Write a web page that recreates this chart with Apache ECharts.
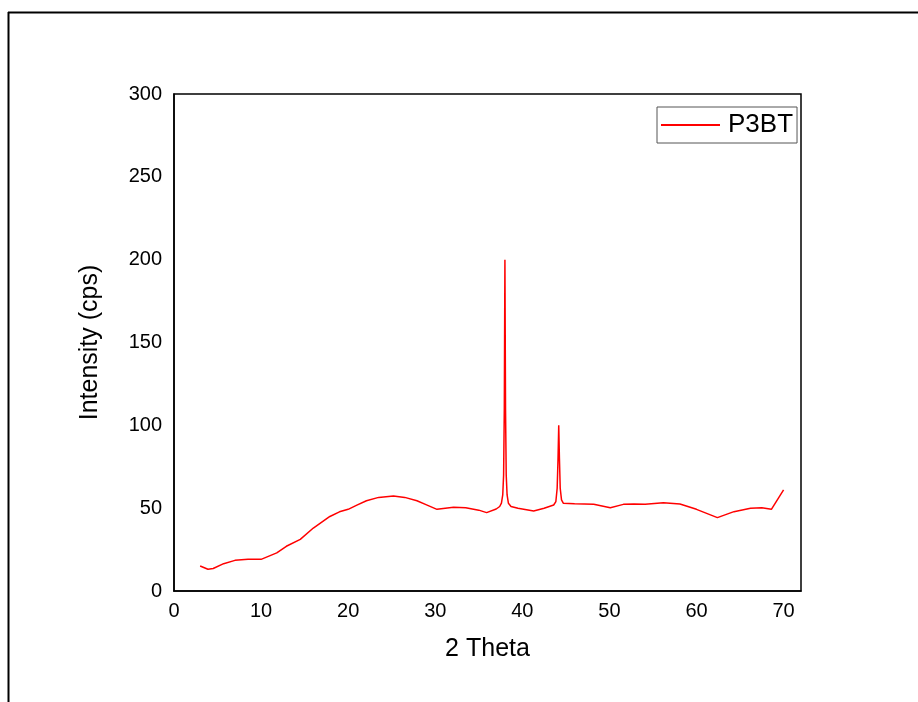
<!DOCTYPE html>
<html>
<head>
<meta charset="utf-8">
<script src="https://cdn.jsdelivr.net/npm/echarts@6/dist/echarts.min.js"></script>
<style>html,body{margin:0;padding:0;background:#fff;}#c{width:918px;height:702px;}</style>
</head>
<body>
<div id="c"></div>
<script>
const seriesName = 'P3BT';
const twoTheta = [3.0,3.9,4.5,5.7,7.0,8.5,10.0,11.8,12.9,14.5,16.0,17.9,19.0,20.0,21.0,22.1,23.5,25.2,26.5,27.9,29.0,30.2,32.1,33.5,35.0,35.9,37.0,37.4,37.6,37.75,37.85,37.93,38.0,38.07,38.15,38.25,38.4,38.7,39.5,41.3,42.5,43.6,43.85,44.0,44.1,44.18,44.26,44.35,44.5,44.7,46.0,48.2,50.1,51.6,52.8,54.1,56.2,58.1,60.0,62.4,64.3,66.2,67.5,68.6,70.0];
const intensity = [15.1,13.1,13.6,16.5,18.5,19.2,19.1,23.0,27.0,31.2,38.0,45.0,47.8,49.3,51.8,54.5,56.5,57.3,56.5,54.5,52.0,49.3,50.5,50.3,48.8,47.3,49.5,51,53,58,70,110,200,110,70,58,53,51,50,48.3,50,51.9,54,62,80,100,80,62,55,53,52.6,52.3,50.3,52.3,52.5,52.3,53.3,52.5,49.3,44.3,47.9,49.9,50.2,49.3,61.0];
const xTicks = [0,10,20,30,40,50,60,70];
const yTicks = [0,50,100,150,200,250,300];

const chart = echarts.init(document.getElementById('c'), null, {renderer:'canvas'});
const data = twoTheta.map((x,i)=>[x,intensity[i]]);
const font = 'Liberation Sans, Arial, sans-serif';
chart.setOption({
  animation:false,
  backgroundColor:'#fff',
  grid:{left:174,top:94,right:117,bottom:111,show:true,borderColor:'#000',borderWidth:1.5},
  legend:{
    show:true,left:657,top:107,
    padding:[5,4,5,4],
    borderColor:'#555',borderWidth:1,
    itemWidth:59,itemHeight:2,icon:'rect',
    textStyle:{fontFamily:font,fontSize:26,color:'#000',padding:[0,0,0,3]},
    data:[seriesName]
  },
  xAxis:{
    type:'value',min:0,max:72,interval:10,
    name:'2 Theta',nameLocation:'middle',nameGap:46,
    nameTextStyle:{fontFamily:font,fontSize:25,color:'#000'},
    axisLine:{show:true,lineStyle:{color:'#000',width:1.5}},
    axisTick:{show:false},splitLine:{show:false},
    axisLabel:{fontFamily:font,fontSize:20,color:'#000',margin:10,showMaxLabel:false,
      formatter:v=>xTicks.includes(v)?String(v):''}
  },
  yAxis:{
    type:'value',min:0,max:300,interval:50,
    name:'Intensity (cps)',nameLocation:'middle',nameGap:71,
    nameTextStyle:{fontFamily:font,fontSize:25,color:'#000'},
    axisLine:{show:true,lineStyle:{color:'#000',width:1.5}},
    axisTick:{show:false},splitLine:{show:false},
    axisLabel:{fontFamily:font,fontSize:20,color:'#000',margin:12,
      formatter:v=>yTicks.includes(v)?String(v):''}
  },
  graphic:[
    {type:'line',shape:{x1:8,y1:12.5,x2:918,y2:12.5},style:{stroke:'#000',lineWidth:2},silent:true},
    {type:'line',shape:{x1:8.5,y1:12,x2:8.5,y2:702},style:{stroke:'#000',lineWidth:2},silent:true}
  ],
  series:[{
    name:seriesName,type:'line',data:data,showSymbol:false,symbol:'none',
    lineStyle:{color:'#ff0000',width:1.5},itemStyle:{color:'#ff0000'}
  }]
});
</script>
</body>
</html>
